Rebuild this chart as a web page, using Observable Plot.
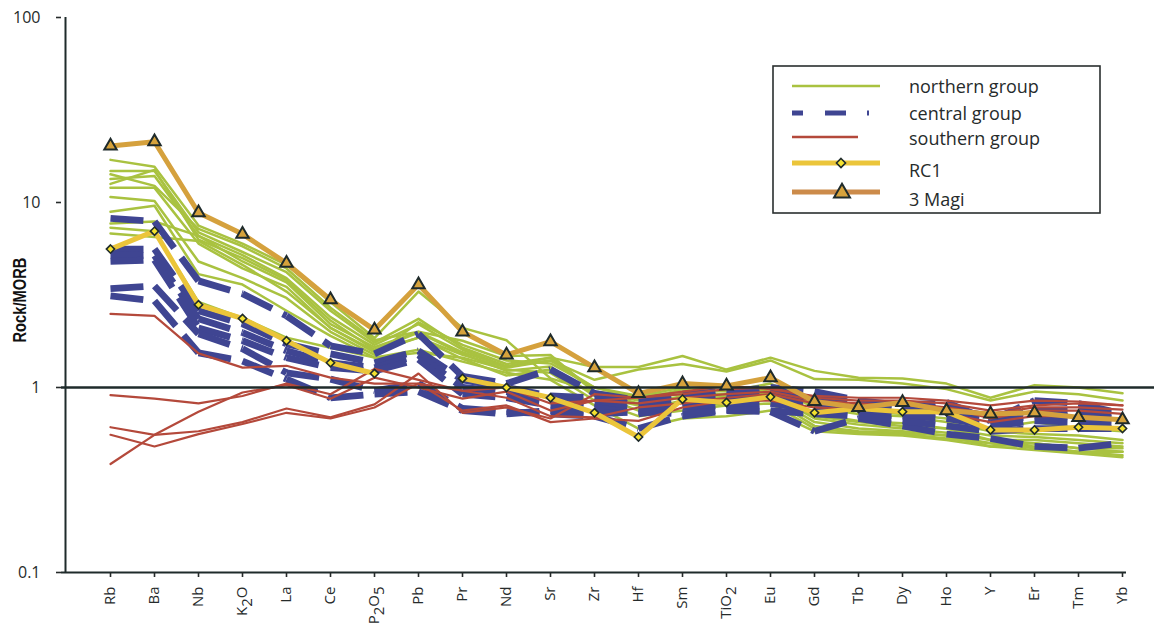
<!DOCTYPE html>
<html><head><meta charset="utf-8">
<script src="https://cdn.jsdelivr.net/npm/d3@7"></script>
<script src="https://cdn.jsdelivr.net/npm/@observablehq/plot@0.6"></script>
<style>
body{margin:0;background:#fff;}
#wrap{position:relative;width:1154px;height:634px;font-family:"Open Sans",sans-serif;background:#fff;}
</style></head><body><div id="wrap"></div>
<script>
const elements = ["Rb","Ba","Nb","K2O","La","Ce","P2O5","Pb","Pr","Nd","Sr","Zr","Hf","Sm","TiO2","Eu","Gd","Tb","Dy","Ho","Y","Er","Tm","Yb"];
const yTicks = [0.1, 1, 10, 100];
const yLabel = "Rock/MORB";
const legendLabels = ["northern group","central group","southern group","RC1","3 Magi"];

const magi3 = [20.2, 21.3, 8.8, 6.75, 4.7, 2.98, 2.05, 3.6, 2.0, 1.5, 1.77, 1.28, 0.93, 1.05, 1.02, 1.13, 0.84, 0.78, 0.83, 0.75, 0.72, 0.73, 0.69, 0.67];
const rc1 = [5.6, 7.0, 2.8, 2.36, 1.79, 1.36, 1.19, null, 1.12, 1.0, 0.88, 0.73, 0.54, 0.865, 0.83, 0.89, 0.73, 0.77, 0.74, 0.74, 0.59, 0.59, 0.61, 0.6];

const northern = [
  [17, 15.6, 7.5, 6.0, 4.6, 2.9, 1.85, 3.3, 2.1, 1.8, 1.12, 0.95, 0.9, 1.0, 0.95, 1.05, 0.8, 0.75, 0.72, 0.68, 0.6, 0.65, 0.6, 0.58],
  [14.8, 14.8, 6.9, 5.4, 4.2, 2.6, 1.75, 2.35, 1.64, 1.34, 1.45, 1.29, 1.29, 1.48, 1.25, 1.45, 1.23, 1.13, 1.12, 1.05, 0.88, 1.03, 1.0, 0.93],
  [13.4, 13.9, 6.6, 5.2, 3.9, 2.4, 1.7, 2.2, 1.6, 1.3, 1.4, 1.1, 1.25, 1.34, 1.22, 1.4, 1.11, 1.1, 1.05, 0.98, 0.85, 0.95, 0.92, 0.85],
  [14.2, 12.3, 7.2, 5.8, 4.4, 2.7, 1.8, 2.0, 1.79, 1.48, 1.5, 0.95, 0.85, 0.98, 0.9, 0.95, 0.7, 0.65, 0.62, 0.6, 0.52, 0.5, 0.47, 0.45],
  [12.6, 15.0, 6.3, 5.0, 3.8, 2.3, 1.6, 1.98, 1.52, 1.23, 1.3, 0.9, 0.8, 0.9, 0.85, 0.9, 0.65, 0.6, 0.58, 0.55, 0.5, 0.48, 0.45, 0.43],
  [12.0, 12.0, 6.0, 4.4, 3.5, 2.1, 1.58, 1.86, 1.43, 1.16, 1.25, 0.92, 0.75, 0.85, 0.8, 0.87, 0.62, 0.58, 0.57, 0.55, 0.48, 0.46, 0.44, 0.42],
  [10.7, 10.2, 4.8, 3.9, 3.05, 2.0, 1.5, 2.25, 1.7, 1.4, 1.35, 1.0, 0.9, 0.95, 0.92, 1.0, 0.78, 0.72, 0.7, 0.65, 0.58, 0.56, 0.55, 0.52],
  [8.9, 9.6, 4.1, 3.6, 2.6, 1.9, 1.45, 1.54, 1.45, 1.25, 1.2, 0.85, 0.7, 0.75, 0.8, 0.82, 0.6, 0.57, 0.56, 0.53, 0.5, 0.47, 0.45, 0.45],
  [7.7, 7.9, 6.6, 4.8, 3.7, 2.2, 1.65, 2.0, 1.55, 1.3, 1.45, 0.95, 0.82, 0.88, 0.88, 0.93, 0.68, 0.63, 0.6, 0.57, 0.52, 0.52, 0.5, 0.48],
  [7.3, 7.0, 2.9, 2.38, 1.86, 1.64, 1.45, 1.6, 1.38, 1.2, 1.1, 0.8, 0.6, 0.68, 0.7, 0.75, 0.58, 0.56, 0.55, 0.52, 0.48, 0.5, 0.47, 0.47],
  [6.8, 6.5, 6.2, 4.6, 3.3, 2.1, 1.55, 1.86, 1.5, 1.28, 1.4, 1.0, 0.88, 0.92, 0.9, 0.98, 0.72, 0.66, 0.64, 0.6, 0.55, 0.54, 0.52, 0.5]
];

const central = [
  [8.2, 7.9, 3.77, 3.21, 2.44, 1.68, 1.52, 1.95, 1.15, 1.05, 1.25, 0.93, 0.85, 0.92, 0.95, 1.0, 0.95, 0.85, 0.8, 0.83, 0.66, 0.85, 0.82, 0.72],
  [5.6, 5.6, 2.6, 2.21, 1.72, 1.52, 1.36, 1.58, 1.1, 1.0, 0.9, 0.88, 0.8, 0.88, 0.9, 0.92, 0.88, 0.82, 0.8, 0.76, 0.7, 0.75, 0.75, 0.72],
  [5.2, 5.16, 2.35, 1.98, 1.58, 1.36, 1.28, 1.5, 1.0, 0.95, 0.85, 0.82, 0.76, 0.82, 0.86, 0.88, 0.82, 0.78, 0.76, 0.72, 0.66, 0.7, 0.7, 0.68],
  [4.8, 4.9, 2.1, 1.79, 1.45, 1.28, 1.23, 1.42, 0.92, 0.88, 0.8, 0.78, 0.72, 0.78, 0.8, 0.82, 0.76, 0.72, 0.7, 0.68, 0.62, 0.66, 0.65, 0.64],
  [3.42, 3.54, 1.95, 1.62, 1.2, 1.11, 0.96, 1.05, 0.77, 0.74, 0.72, 0.7, 0.6, 0.7, 0.75, 0.74, 0.58, 0.68, 0.62, 0.56, 0.53, 0.48, 0.47, 0.5],
  [3.13, 2.94, 1.54, 1.39, 1.11, 0.88, 0.92, 0.95, 0.75, 0.72, 0.75, 0.72, 0.74, 0.72, 0.76, 0.75, 0.72, 0.7, 0.66, 0.62, 0.58, 0.6, 0.6, 0.6]
];

const southern = [
  [2.5, 2.44, 1.53, 1.28, 1.31, 1.13, 1.05, 1.05, 0.96, 1.0, 0.82, 0.85, 0.88, 0.92, 0.98, 1.0, 0.88, 0.85, 0.85, 0.82, 0.75, 0.8, 0.82, 0.8],
  [0.91, 0.87, 0.82, 0.9, 1.05, 0.92, 1.26, 1.1, 0.96, 0.88, 0.7, 0.69, 0.78, 0.82, 0.88, 0.92, 0.82, 0.8, 0.82, 0.78, 0.68, 0.75, 0.75, 0.72],
  [0.61, 0.555, 0.58, 0.65, 0.77, 0.69, 0.81, 1.19, 0.73, 0.78, 0.68, 0.92, 0.88, 0.95, 1.02, 0.98, 0.9, 0.88, 0.88, 0.85, 0.8, 0.85, 0.84, 0.8],
  [0.555, 0.48, 0.56, 0.635, 0.73, 0.68, 0.78, 1.05, 0.75, 0.8, 0.65, 0.68, 0.66, 0.78, 0.85, 0.85, 0.78, 0.76, 0.75, 0.72, 0.65, 0.7, 0.7, 0.68],
  [0.386, 0.555, 0.74, 0.94, 1.03, 0.87, 1.13, 1.0, 0.87, 0.95, 0.75, 0.85, 0.82, 0.88, 0.92, 0.95, 0.85, 0.82, 0.8, 0.78, 0.72, 0.78, 0.78, 0.76]
];

const colors = {north: "#a9c240", central: "#3f4592", south: "#b4493b", rc1: "#ebc53a", magi: "#d5a13d", magiLegend: "#cc8b4a", diamond: "#f4e22f", tri: "#d6a23c", ink: "#1f2b2b", text: "#262b2b"};

function rows(series, group) {
  return series.flatMap((vals, i) => vals.map((v, j) => ({group, id: group + i, el: elements[j], v})));
}
// each consecutive pair as its own piece, so the dash pattern restarts at every category (as in the original)
function segments(series, group) {
  return series.flatMap((vals, i) => vals.slice(0, -1).flatMap((v, j) => [
    {id: `${group}${i}-${j}`, el: elements[j], v},
    {id: `${group}${i}-${j}`, el: elements[j + 1], v: vals[j + 1]}
  ]));
}

const plot = Plot.plot({
  width: 1154, height: 634,
  marginLeft: 61, marginRight: 28, marginTop: 17, marginBottom: 62,
  style: {fontFamily: '"Open Sans", sans-serif', fontSize: "15px", color: colors.text, background: "transparent"},
  x: {type: "point", domain: elements, range: [106, 1126], padding: 0},
  y: {type: "log", domain: [0.1, 100]},
  marks: [
    Plot.line(rows(northern, "n"), {x: "el", y: "v", z: "id", stroke: colors.north, strokeWidth: 2.5}),
    Plot.line(segments(central, "c"), {x: "el", y: "v", z: "id", stroke: colors.central, strokeWidth: 6.8, strokeDasharray: "33,12", strokeLinecap: "butt"}),
    Plot.line(rows(southern, "s"), {x: "el", y: "v", z: "id", stroke: colors.south, strokeWidth: 2.2}),
    Plot.line(rows([rc1], "r"), {x: "el", y: "v", z: "id", stroke: colors.rc1, strokeWidth: 5}),
    Plot.line(rows([magi3], "m"), {x: "el", y: "v", z: "id", stroke: colors.magi, strokeWidth: 5}),
    Plot.ruleY([1], {stroke: colors.ink, strokeWidth: 2.4, insetRight: -28}),
    Plot.ruleY([0.1], {stroke: colors.ink, strokeWidth: 2}),
    Plot.ruleX(["Rb"], {dx: -45, y1: 0.1, y2: 100, stroke: colors.ink, strokeWidth: 2}),
    Plot.dot(rows([rc1], "r"), {x: "el", y: "v", symbol: "diamond2", r: 3.7, fill: colors.diamond, stroke: colors.ink, strokeWidth: 1.6}),
    Plot.dot(rows([magi3], "m"), {x: "el", y: "v", symbol: "triangle", r: 4.6, fill: colors.tri, stroke: colors.ink, strokeWidth: 2}),
    Plot.axisY({ticks: yTicks, tickSize: 5, tickPadding: 16, tickFormat: d => String(d), label: null, strokeWidth: 1.6, fontSize: 16}),
    Plot.axisX({tickSize: 5, tickPadding: 9, tickRotate: -90, label: null, strokeWidth: 1.6, fontSize: 15})
  ]
});

const svg = d3.select(plot);
svg.selectAll('g[aria-label="x-axis tick label"] text').each(function () {
  const s = this.textContent;
  if (!/\d/.test(s)) return;
  const t = d3.select(this);
  t.text(null);
  let shifted = false;
  s.match(/\d+|\D+/g).forEach(p => {
    const isD = /\d/.test(p);
    const ts = t.append("tspan").text(p);
    if (isD && !shifted) { ts.attr("dy", "5"); shifted = true; }
    else if (!isD && shifted) { ts.attr("dy", "-5"); shifted = false; }
  });
});
svg.append("text")
  .attr("transform", "translate(26,300) rotate(-90)")
  .attr("text-anchor", "middle")
  .attr("font-family", '"Liberation Sans Narrow", "Liberation Sans", sans-serif')
  .attr("font-weight", "bold")
  .attr("font-size", 18)
  .attr("fill", "#111")
  .attr("textLength", 85)
  .attr("lengthAdjust", "spacingAndGlyphs")
  .text(yLabel);

const wrap = d3.select("#wrap");
wrap.node().appendChild(plot);

// legend
const leg = wrap.append("svg").attr("width", 330).attr("height", 150)
  .style("position", "absolute").style("left", "772px").style("top", "65px");
leg.append("rect").attr("x", 1).attr("y", 1).attr("width", 327).attr("height", 147)
  .attr("fill", "#fff").attr("stroke", "#2a2f2f").attr("stroke-width", 1.6);
const lineY = [21, 48, 72, 98, 127];
const textY = [28, 55, 80, 112, 141];
leg.append("line").attr("x1", 20).attr("x2", 108).attr("y1", lineY[0]).attr("y2", lineY[0]).attr("stroke", colors.north).attr("stroke-width", 2.6);
leg.append("line").attr("x1", 20).attr("x2", 108).attr("y1", lineY[1]).attr("y2", lineY[1]).attr("stroke", colors.central).attr("stroke-width", 5).attr("stroke-dasharray", "11,22,21,21,2");
leg.append("line").attr("x1", 20).attr("x2", 86).attr("y1", lineY[2]).attr("y2", lineY[2]).attr("stroke", colors.south).attr("stroke-width", 2.6);
leg.append("line").attr("x1", 20).attr("x2", 108).attr("y1", lineY[3]).attr("y2", lineY[3]).attr("stroke", colors.rc1).attr("stroke-width", 5);
leg.append("line").attr("x1", 20).attr("x2", 108).attr("y1", lineY[4]).attr("y2", lineY[4]).attr("stroke", colors.magiLegend).attr("stroke-width", 5);
leg.append("path").attr("d", d3.symbol(d3.symbolDiamond2, 52)()).attr("transform", `translate(69,${lineY[3]})`)
  .attr("fill", colors.diamond).attr("stroke", colors.ink).attr("stroke-width", 1.6);
leg.append("path").attr("d", d3.symbol(d3.symbolTriangle, 110)()).attr("transform", `translate(70,${lineY[4] + 1})`)
  .attr("fill", colors.tri).attr("stroke", colors.ink).attr("stroke-width", 2);
legendLabels.forEach((s, i) => {
  leg.append("text").attr("x", 137).attr("y", textY[i]).text(s)
    .attr("font-family", '"Open Sans", sans-serif').attr("font-size", 18).attr("fill", colors.text);
});
</script>
</body></html>
